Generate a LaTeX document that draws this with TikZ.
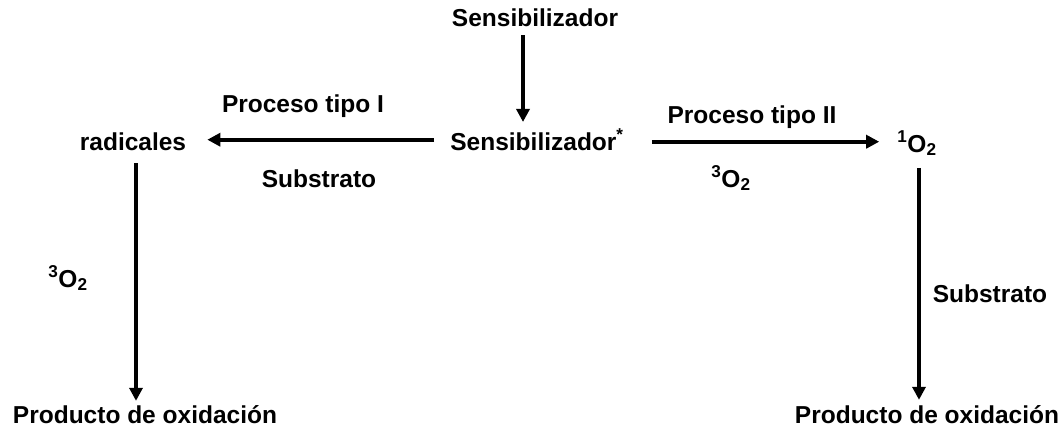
\documentclass[tikz,border=0pt]{standalone}
\usepackage{fontspec}
\setmainfont{Liberation Sans}
\usetikzlibrary{arrows.meta}
\tikzset{
	lbl/.style={font=\fontsize{24.5}{28}\selectfont\bfseries, inner sep=0pt, anchor=base},
	rxn/.style={line width=4pt, -{Triangle[length=13pt,width=13pt]}},
}
\begin{document}
\begin{tikzpicture}[x=1pt, y=-1pt]
		\useasboundingbox (0,0) rectangle (1063,437);
		%species
		\node[lbl] (sens) at (535,26) {Sensibilizador};
		\node[lbl] (sensx) at (537,150) {Sensibilizador\textsuperscript{*}};
		\node[lbl] (rad) at (133,150) {radicales};
		\node[lbl] (singO) at (917,152) {\textsuperscript{1}O\textsubscript{2}};
		\node[lbl] (prodL) at (145,423) {Producto de oxidación};
		\node[lbl] (prodR) at (927,423) {Producto de oxidación};
		
		%conditions
		\node[lbl] (tipoI) at (303,112) {Proceso tipo I};
		\node[lbl] (subL) at (319,187) {Substrato};
		\node[lbl] (tipoII) at (752,123) {Proceso tipo II};
		\node[lbl] (tripR) at (731,187) {\textsuperscript{3}O\textsubscript{2}};
		\node[lbl] (tripL) at (68,287) {\textsuperscript{3}O\textsubscript{2}};
		\node[lbl] (subR) at (990,302) {Substrato};
		
		%arrows
		\draw[rxn, shorten <=9pt, shorten >=7pt] ([xshift=-12pt]sens.south) -- ([xshift=-14pt]sensx.north);
		\draw[rxn, shorten <=16pt, shorten >=21pt] (sensx.west) -- (sensx.west -| rad.east);
		\draw[rxn, shorten <=28pt, shorten >=18pt] ([yshift=-2pt]sensx.east) -- ([yshift=-2pt]sensx.east -| singO.west);
		\draw[rxn, shorten <=13pt, shorten >=4pt] ([xshift=3pt]rad.south) -- ([xshift=3pt]rad.south |- prodL.north);
		\draw[rxn, shorten <=12pt, shorten >=5pt] ([xshift=2pt]singO.south) -- ([xshift=2pt]singO.south |- prodR.north);
\end{tikzpicture}
\end{document}
